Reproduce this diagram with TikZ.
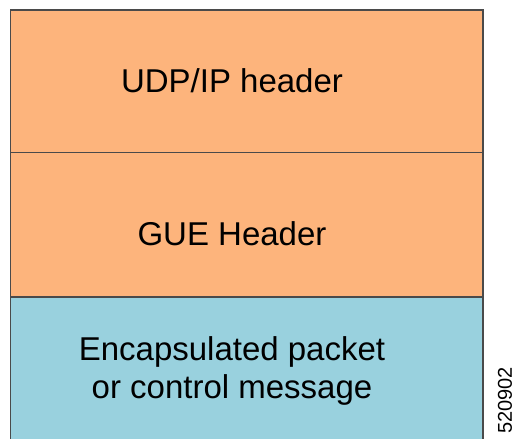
\documentclass[tikz,border=0pt]{standalone}
\usepackage{fontspec}
\setmainfont{Liberation Sans}
\definecolor{orangebox}{HTML}{FDB47C}
\definecolor{bluebox}{HTML}{99D1DE}
\definecolor{edge}{HTML}{4A4A4A}
\begin{document}
\begin{tikzpicture}[x=1pt,y=-1pt,
  layer/.style={draw=edge,line width=1.5pt},
  lbl/.style={font=\fontsize{33}{37.5}\selectfont,align=center,text=black}]
\useasboundingbox (0,0) rectangle (514,439);
\path[layer,fill=orangebox] (10.5,10) rectangle (483,152.5);
\path[layer,fill=orangebox] (10.5,152.5) rectangle (483,297);
\fill[bluebox] (10.5,297) rectangle (483,439);
\draw[layer] (10.5,439) -- (10.5,297) -- (483,297) -- (483,439);
\node[lbl] (udp) at (232,81) {UDP/IP header};
\node[lbl] (gue) at (232,234) {GUE Header};
\node[lbl] (enc) at (232,371) {Encapsulated packet\\or control message};
\node[font=\fontsize{20}{24}\selectfont,rotate=90,anchor=west,inner sep=0pt] (id) at (505,434) {520902};
\end{tikzpicture}
\end{document}
